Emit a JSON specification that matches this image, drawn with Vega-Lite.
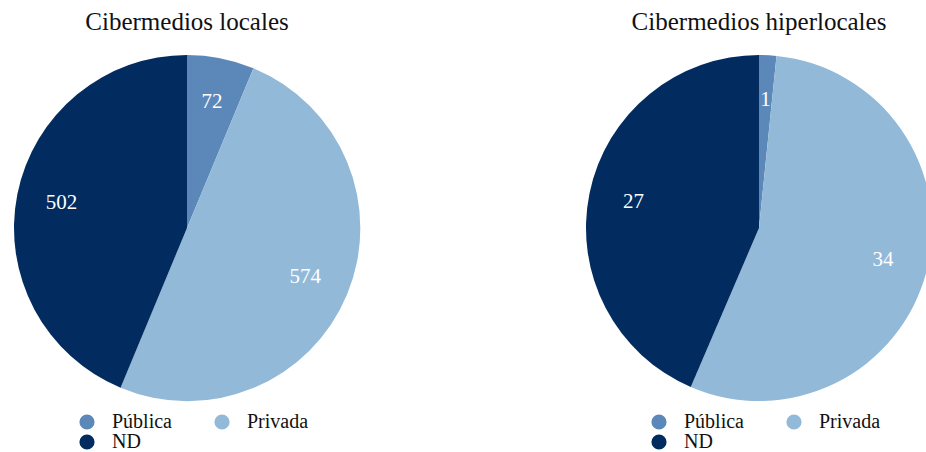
{
  "$schema": "https://vega.github.io/schema/vega-lite/v6.json",
  "padding": {"top": 10, "left": 0, "right": 0, "bottom": 0},
  "background": "white",
  "spacing": 218,
  "bounds": "flush",
  "datasets": {
    "locales": [
      {"tipo": "Pública", "n": 72, "orden": 1},
      {"tipo": "Privada", "n": 574, "orden": 2},
      {"tipo": "ND", "n": 502, "orden": 3}
    ],
    "hiperlocales": [
      {"tipo": "Pública", "n": 1, "orden": 1},
      {"tipo": "Privada", "n": 34, "orden": 2},
      {"tipo": "ND", "n": 27, "orden": 3}
    ]
  },
  "config": {
    "font": "Liberation Serif",
    "view": {"stroke": null},
    "title": {"font": "Liberation Serif", "fontSize": 25, "fontWeight": "normal", "color": "#111111", "offset": 6},
    "legend": {
      "labelFont": "Liberation Serif",
      "labelFontSize": 20,
      "labelColor": "#111111",
      "symbolType": "circle",
      "symbolSize": 230,
      "symbolStrokeWidth": 0,
      "columns": 2,
      "columnPadding": 40,
      "rowPadding": 0,
      "labelOffset": 15,
      "offset": 0
    }
  },
  "resolve": {"scale": {"theta": "independent", "color": "independent"}, "legend": {"color": "independent"}},
  "hconcat": [
    {
      "title": "Cibermedios locales",
      "width": 374,
      "height": 374,
      "data": {"name": "locales"},
      "encoding": {
        "theta": {"field": "n", "type": "quantitative", "stack": true},
        "order": {"field": "orden", "type": "quantitative"}
      },
      "layer": [
        {"mark": {"type": "arc", "outerRadius": 173},
         "encoding": {
           "color": {
             "field": "tipo",
             "type": "nominal",
             "scale": {"domain": ["Pública", "Privada", "ND"], "range": ["#5c87b9", "#92b9d8", "#022c60"]},
             "legend": {"title": null, "orient": "none", "direction": "horizontal", "legendX": 77, "legendY": 371}
           }
         }},
        {"mark": {"type": "text", "radius": 128, "fontSize": 21, "color": "white", "font": "Liberation Serif"},
         "encoding": {"text": {"field": "n", "type": "quantitative"}}}
      ]
    },
    {
      "title": "Cibermedios hiperlocales",
      "width": 334,
      "height": 374,
      "data": {"name": "hiperlocales"},
      "encoding": {
        "theta": {"field": "n", "type": "quantitative", "stack": true},
        "order": {"field": "orden", "type": "quantitative"}
      },
      "layer": [
        {"mark": {"type": "arc", "outerRadius": 173},
         "encoding": {
           "color": {
             "field": "tipo",
             "type": "nominal",
             "scale": {"domain": ["Pública", "Privada", "ND"], "range": ["#5c87b9", "#92b9d8", "#022c60"]},
             "legend": {"title": null, "orient": "none", "direction": "horizontal", "legendX": 57, "legendY": 371}
           }
         }},
        {"mark": {"type": "text", "radius": 128, "fontSize": 21, "color": "white", "font": "Liberation Serif"},
         "encoding": {"text": {"field": "n", "type": "quantitative"}}}
      ]
    }
  ]
}
